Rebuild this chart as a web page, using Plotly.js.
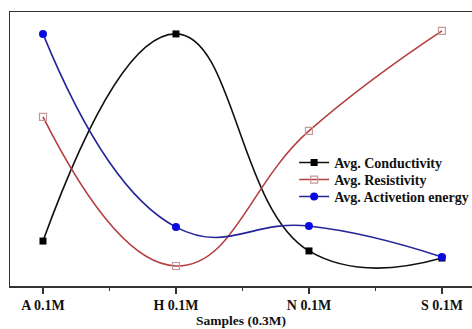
<!DOCTYPE html>
<html>
<head>
<meta charset="utf-8">
<script src="https://cdn.plot.ly/plotly-3.0.1.min.js"></script>
<style>
  html, body { margin: 0; padding: 0; background: #fff; }
  #chart { width: 472px; height: 329px; }
</style>
</head>
<body>
<div id="chart"></div>
<script>
// Sample categories along the x axis
const samples = ["A 0.1M", "H 0.1M", "N 0.1M", "S 0.1M"];
const positions = [0, 1, 2, 3];

// Averaged quantities (normalised units, 0-100)
const conductivity = [16.4, 92.0, 12.8, 10.2];
const resistivity = [61.7, 7.3, 56.6, 93.1];
const activationEnergy = [92.0, 21.5, 21.9, 10.6];

const serif = "Liberation Serif, Times New Roman, serif";
const legendFont = { family: serif, size: 14, color: "#111", weight: "bold" };

const traces = [
  {
    x: positions, y: conductivity, name: "Avg. Conductivity", legend: "legend",
    type: "scatter", mode: "lines+markers",
    line: { shape: "spline", smoothing: 1.3, color: "#111111", width: 1.6 },
    marker: { symbol: "square", size: 7, color: "#000000" }
  },
  {
    x: positions, y: resistivity, name: "Avg. Resistivity", legend: "legend2",
    type: "scatter", mode: "lines+markers",
    line: { shape: "spline", smoothing: 1.3, color: "#b53f3f", width: 1.6 },
    marker: { symbol: "square-open", size: 7, color: "#c49a9a", line: { width: 1.2 } }
  },
  {
    x: positions, y: activationEnergy, name: "Avg. Activetion energy", legend: "legend3",
    type: "scatter", mode: "lines+markers",
    line: { shape: "spline", smoothing: 1.3, color: "#25259a", width: 1.6 },
    marker: { symbol: "circle", size: 8, color: "#0a0ae0" }
  }
];

// one legend box per entry so the rows sit close together
function legendAt(y) {
  return {
    x: 0.615, y: y, xanchor: "left", yanchor: "middle",
    bgcolor: "rgba(0,0,0,0)", font: legendFont, itemwidth: 30
  };
}

const layout = {
  width: 472, height: 329,
  margin: { l: 10, r: 0, t: 12, b: 43, autoexpand: false },
  paper_bgcolor: "#ffffff", plot_bgcolor: "#ffffff",
  showlegend: true,
  legend: legendAt(0.449),
  legend2: legendAt(0.387),
  legend3: legendAt(0.325),
  xaxis: {
    range: [-0.248, 3.226], automargin: false,
    tickmode: "array", tickvals: positions, ticktext: samples,
    ticks: "outside", ticklen: 6, tickwidth: 1.2, tickcolor: "#333",
    minor: { tickmode: "array", tickvals: [0.5, 1.5, 2.5], ticks: "outside", ticklen: 3, tickwidth: 1.2, tickcolor: "#333" },
    showline: true, linecolor: "#333", linewidth: 1.5, mirror: true,
    showgrid: false, zeroline: false,
    tickfont: { family: serif, size: 14, color: "#111", weight: "bold" },
    title: { text: "Samples (0.3M)", standoff: 3, font: { family: serif, size: 13.5, color: "#111", weight: "bold" } }
  },
  yaxis: {
    range: [0, 100], automargin: false,
    showticklabels: false, ticks: "",
    showline: true, linecolor: "#333", linewidth: 1.5,
    showgrid: false, zeroline: false
  }
};

Plotly.newPlot("chart", traces, layout, { displayModeBar: false, staticPlot: true });
</script>
</body>
</html>
